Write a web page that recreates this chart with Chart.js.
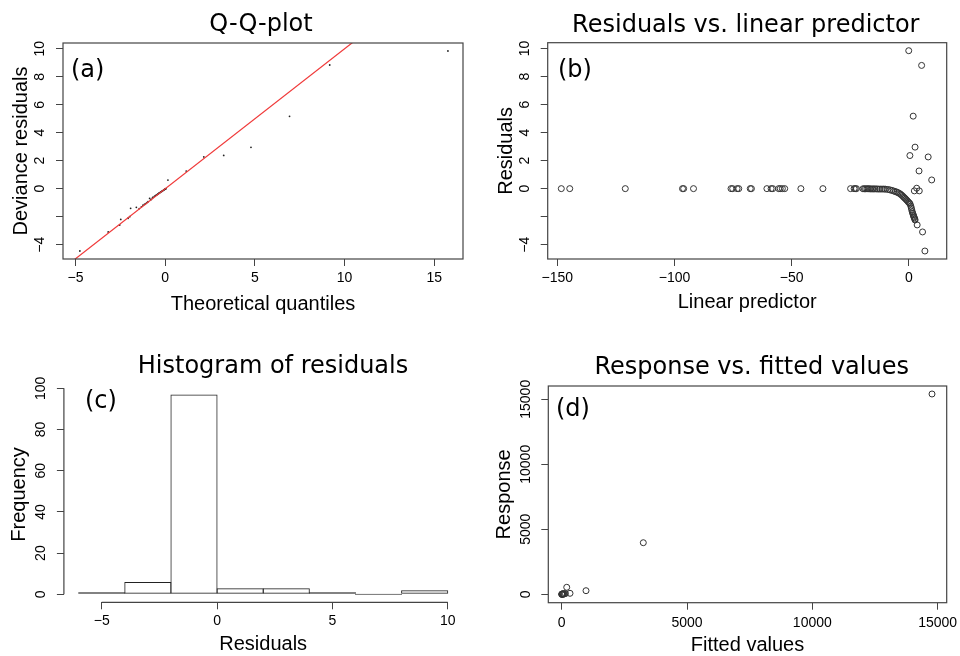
<!DOCTYPE html>
<html lang="en">
<head>
<meta charset="UTF-8">
<title>Model diagnostics</title>
<script src="https://cdn.jsdelivr.net/npm/chart.js"></script>
<style>
  html, body { margin:0; padding:0; background:#fff; }
  .grid { position:relative; width:960px; height:656px; }
  .panel { position:absolute; width:480px; height:328px; }
  .panel canvas { display:block; }
</style>
</head>
<body>
<div class="grid">
  <div class="panel" style="left:0;top:0"><canvas id="qq" width="480" height="328"></canvas></div>
  <div class="panel" style="left:480px;top:0"><canvas id="lp" width="480" height="328"></canvas></div>
  <div class="panel" style="left:0;top:328px"><canvas id="hist" width="480" height="328"></canvas></div>
  <div class="panel" style="left:480px;top:328px"><canvas id="fit" width="480" height="328"></canvas></div>
</div>

<script>
// ---- values ----
// (a) Q-Q plot
const qqTheo  = [-4.76, -3.18, -2.54, -2.48, -2.07, -1.98, -1.93, -1.61, -1.45, -1.33, -1.24, -1.16, -1.10, -1.02, -0.96,
                 -0.87, -0.80, -0.72, -0.68, -0.60, -0.55, -0.50, -0.45, -0.42, -0.38, -0.35, -0.31, -0.28, -0.24, -0.20,
                 -0.16, -0.13, -0.09, -0.06, -0.03, 0.00, 0.04, 0.15, 1.17, 2.15, 3.26, 4.78, 6.93, 9.17, 15.76];
const qqResid = [-4.45, -3.09, -2.59, -2.19, -2.11, -2.00, -1.40, -1.33, -1.42, -1.29, -1.18, -1.12, -1.07, -0.99, -0.93,
                 -0.69, -0.78, -0.68, -0.60, -0.54, -0.50, -0.46, -0.42, -0.39, -0.35, -0.32, -0.29, -0.26, -0.23, -0.19,
                 -0.16, -0.13, -0.10, -0.07, -0.04, -0.02, 0.00, 0.62, 1.26, 2.27, 2.38, 2.96, 5.17, 8.84, 9.84];
const qqLineX = [-6, 11];
const qqLineY = [-6, 11];

// (b) residuals vs linear predictor
const lpX = [-148.3, -144.7, -121.0, -96.6, -96.1, -91.9, -75.9, -75.2, -73.3, -72.6,
             -67.7, -67.2, -60.6, -58.8, -58.1, -55.6, -54.9, -54.0, -53.0, -46.1,
             -36.7, -24.9, -23.4, -22.9, -22.4, -19.6, -19.0, -18.5, -17.9, -17.4,
             -16.9, -16.3, -15.7, -15.1, -14.5, -13.8, -13.1, -12.3, -11.5, -10.7,
             -10.0, -9.0, -8.1, -7.3, -6.5, -5.8, -5.2, -4.6, -4.0, -3.5,
             -3.0, -2.5, -2.1, -1.7, -1.3, -0.9, -0.5, -0.1, 0.2, 0.5,
             0.8, 1.0, 1.2, 1.4, 1.6, 1.8, 2.0, 2.1, 2.3, 2.5, 2.6,
             -0.1, 5.4, 1.8, 2.6, 0.4, 8.2, 4.3, 9.7, 3.3, 2.3, 4.4, 3.5, 5.8, 6.8];
const lpResid = [0, 0, 0, 0, 0, 0, 0, 0, 0, 0,
                 0, 0, 0, 0, 0, 0, 0, 0, 0, 0,
                 0, 0, 0, 0, 0, -0.01, -0.01, -0.01, -0.01, -0.01,
                 -0.01, -0.02, -0.02, -0.02, -0.02, -0.02, -0.03, -0.03, -0.03, -0.03,
                 -0.04, -0.06, -0.09, -0.13, -0.17, -0.21, -0.25, -0.29, -0.35, -0.41,
                 -0.48, -0.56, -0.63, -0.69, -0.76, -0.83, -0.91, -0.98, -1.03, -1.10,
                 -1.25, -1.38, -1.52, -1.65, -1.76, -1.86, -1.95, -2.02, -2.08, -2.17, -2.24,
                 9.84, 8.79, 5.17, 2.96, 2.36, 2.26, 1.26, 0.62, 0.03, -0.16, -0.16, -2.59, -3.09, -4.45];

// (c) histogram, bins of width 2
const histMid   = [-5, -3, -1, 1, 3, 5, 7, 9];
const histCount = [1, 6, 97, 3, 3, 1, 0, 2];

// (d) response vs fitted
const fittedVal   = [14777, 3256, 970, 331, 200, 150, 110, 85, 60, 45, 30, 20, 12, 5, 0];
const responseVal = [15408, 3969, 277, 77, 540, 60, 35, 20, 45, 10, 25, 5, 15, 0, 0];

// ticks and their labels
const qqXTicks = [-5, 0, 5, 10, 15],             qqXLabels = ['−5', '0', '5', '10', '15'];
const residTicks = [-4, -2, 0, 2, 4, 6, 8, 10],  residLabels = ['−4', '', '0', '2', '4', '6', '8', '10'];
const lpXTicks = [-150, -100, -50, 0],            lpXLabels = ['−150', '−100', '−50', '0'];
const histXTicks = [-5, 0, 5, 10],                histXLabels = ['−5', '0', '5', '10'];
const freqTicks = [0, 20, 40, 60, 80, 100],       freqLabels = ['0', '20', '40', '60', '80', '100'];
const fitTicks = [0, 5000, 10000, 15000],         fitLabels = ['0', '5000', '10000', '15000'];

const SANS = '"Liberation Sans", Arial, sans-serif';
const pts = (xs, ys) => xs.map((x, i) => ({x, y: ys[i]}));

// box / R-style axis lines, main title and panel tag
const framePlugin = {
  id: 'frame',
  afterDraw(chart, args, o) {
    const {ctx, chartArea: a} = chart;
    ctx.save();
    ctx.strokeStyle = '#444';
    ctx.lineWidth = 1.2;
    if (o.box) ctx.strokeRect(a.left, a.top, a.right - a.left, a.bottom - a.top);
    if (o.axes) {
      const xs = chart.scales.x, ys = chart.scales.y;
      const xt = xs.ticks, yt = ys.ticks;
      ctx.beginPath();
      ctx.moveTo(xs.getPixelForValue(xt[0].value), a.bottom);
      ctx.lineTo(xs.getPixelForValue(xt[xt.length - 1].value), a.bottom);
      ctx.moveTo(a.left, ys.getPixelForValue(yt[0].value));
      ctx.lineTo(a.left, ys.getPixelForValue(yt[yt.length - 1].value));
      ctx.stroke();
    }
    ctx.fillStyle = '#000';
    ctx.font = '24px "DejaVu Sans", sans-serif';
    ctx.textAlign = 'center';
    ctx.fillText(o.title, o.titleX, o.titleY);
    ctx.textAlign = 'left';
    ctx.fillText(o.tag, o.tagX, o.tagY);
    ctx.restore();
  }
};

function axis(o) {
  const isY = o.axis === 'y';
  return {
    type: 'linear', min: o.min, max: o.max, offset: false,
    afterBuildTicks: s => { s.ticks = o.ticks.map(v => ({value: v})); },
    afterFit: s => {
      if (isY) s.width = o.size; else s.height = o.size;
      s.paddingLeft = s.paddingRight = s.paddingTop = s.paddingBottom = 0;
    },
    ticks: {
      autoSkip: false, color: '#000', font: {family: SANS, size: 14},
      padding: o.pad, minRotation: isY ? 90 : 0, maxRotation: isY ? 90 : 0,
      crossAlign: isY ? 'center' : 'near',
      callback: (v, i) => o.labels[i]
    },
    grid: {drawOnChartArea: false, drawTicks: true, tickLength: 7, color: '#444', lineWidth: 1, offset: false},
    border: {display: false},
    title: {display: true, text: o.title, color: '#000', font: {family: SANS, size: 20},
            padding: isY ? {top: o.tpad} : {bottom: o.tpad}}
  };
}

function panel(id, type, datasets, p) {
  return new Chart(document.getElementById(id), {
    type,
    data: {datasets},
    options: {
      responsive: false, animation: false, events: [],
      layout: {padding: {left: 0, top: p.area[1], right: 480 - p.area[2], bottom: 0}},
      plugins: {legend: {display: false}, tooltip: {enabled: false}, frame: p.frame},
      scales: {x: axis(p.x), y: axis(p.y)}
    },
    plugins: [framePlugin]
  });
}

const openCircle = {pointStyle: 'circle', pointRadius: 3, borderWidth: 1, borderColor: '#333', backgroundColor: 'rgba(0,0,0,0)'};

// (a)
panel('qq', 'scatter', [
  {type: 'line', data: pts(qqLineX, qqLineY), borderColor: '#f03a3a', borderWidth: 1.2, pointRadius: 0, fill: false},
  {data: pts(qqTheo, qqResid), pointRadius: 0.9, borderWidth: 0, backgroundColor: '#222'}
], {
  area: [63, 43, 463, 259],
  x: {axis: 'x', min: -5.7, max: 16.6, ticks: qqXTicks, labels: qqXLabels, size: 69, pad: 4, title: 'Theoretical quantiles', tpad: 12},
  y: {axis: 'y', min: -5.02, max: 10.41, ticks: residTicks, labels: residLabels, size: 63, pad: 7.5, title: 'Deviance residuals', tpad: 9.4},
  frame: {box: true, title: 'Q-Q-plot', titleX: 261, titleY: 31, tag: '(a)', tagX: 71, tagY: 77}
});

// (b)
panel('lp', 'scatter', [
  Object.assign({data: pts(lpX, lpResid)}, openCircle)
], {
  area: [67.7, 42.7, 466.7, 259],
  x: {axis: 'x', min: -154.1, max: 16.1, ticks: lpXTicks, labels: lpXLabels, size: 69, pad: 4, title: 'Linear predictor', tpad: 14},
  y: {axis: 'y', min: -5.02, max: 10.41, ticks: residTicks, labels: residLabels, size: 67.7, pad: 7.5, title: 'Residuals', tpad: 14.4},
  frame: {box: true, title: 'Residuals vs. linear predictor', titleX: 265.8, titleY: 32, tag: '(b)', tagX: 78, tagY: 77}
});

// (c)
panel('hist', 'bar', [
  {data: pts(histMid, histCount), backgroundColor: 'rgba(0,0,0,0)', borderColor: '#222', borderWidth: 1,
   borderSkipped: false, inflateAmount: 0, barPercentage: 1.0217, categoryPercentage: 1, minBarLength: 1}
], {
  area: [63.9, 58.5, 462.5, 274.3],
  x: {axis: 'x', min: -6.64, max: 10.64, ticks: histXTicks, labels: histXLabels, size: 53.7, pad: 3, title: 'Residuals', tpad: 0},
  y: {axis: 'y', min: -3.88, max: 100.88, ticks: freqTicks, labels: freqLabels, size: 63.9, pad: 3.8, title: 'Frequency', tpad: 7.1},
  frame: {axes: true, title: 'Histogram of residuals', titleX: 273, titleY: 45.3, tag: '(c)', tagX: 85, tagY: 80}
});

// (d)
panel('fit', 'scatter', [
  Object.assign({data: pts(fittedVal, responseVal)}, openCircle)
], {
  area: [68.3, 58, 466.7, 274.7],
  x: {axis: 'x', min: -535, max: 15363, ticks: fitTicks, labels: fitLabels, size: 53.3, pad: 4.6, title: 'Fitted values', tpad: -1.7},
  y: {axis: 'y', min: -646, max: 16023, ticks: fitTicks, labels: fitLabels, size: 68.3, pad: -4, title: 'Response', tpad: 12.1},
  frame: {box: true, title: 'Response vs. fitted values', titleX: 271.7, titleY: 46, tag: '(d)', tagX: 76, tagY: 88}
});
</script>
</body>
</html>
